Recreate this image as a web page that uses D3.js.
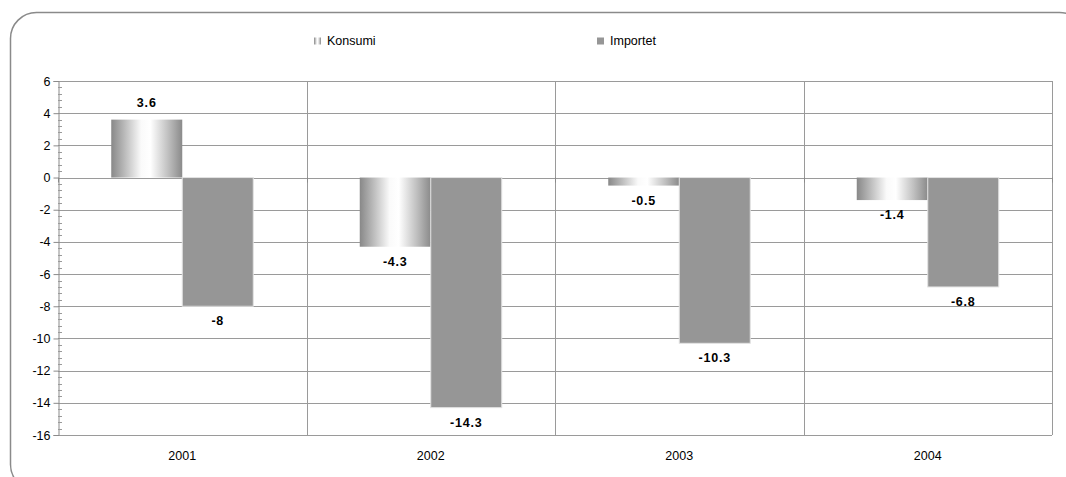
<!DOCTYPE html>
<html>
<head>
<meta charset="utf-8">
<script src="https://cdn.jsdelivr.net/npm/d3@7"></script>
<style>
  body { margin: 0; background: #fff; overflow: hidden; }
  svg { display: block; font-family: "Liberation Sans", Arial, sans-serif; }
</style>
</head>
<body>
<svg id="chart" width="1066" height="477"></svg>
<script>
const years = ["2001", "2002", "2003", "2004"];
const seriesNames = ["Konsumi", "Importet"];
const konsumi = [3.6, -4.3, -0.5, -1.4];
const importet = [-8, -14.3, -10.3, -6.8];
const yTicks = [6, 4, 2, 0, -2, -4, -6, -8, -10, -12, -14, -16];

const svg = d3.select("#chart");
const m = { left: 58, right: 1052, top: 81, bottom: 435 };
const hy = v => String(v).replace("\u2212", "-");

// frame (extends past the right and bottom edges, as in the reference)
svg.append("rect")
  .attr("x", 10.5).attr("y", 12.5)
  .attr("width", 1075).attr("height", 478)
  .attr("rx", 26).attr("ry", 26)
  .attr("fill", "#fff").attr("stroke", "#8a8a8a").attr("stroke-width", 1.5);

const defs = svg.append("defs");
const grad = defs.append("linearGradient").attr("id", "kgrad")
  .attr("x1", "0%").attr("x2", "100%").attr("y1", "0%").attr("y2", "0%");
[[0, "#888888"], [0.18, "#b8b8b8"], [0.42, "#fafafa"], [0.55, "#ffffff"], [0.8, "#c0c0c0"], [1, "#8a8a8a"]]
  .forEach(([o, c]) => grad.append("stop").attr("offset", o).attr("stop-color", c));

const x0 = d3.scaleBand().domain(years).range([m.left, m.right]).paddingInner(0).paddingOuter(0);
const y = d3.scaleLinear().domain([-16, 6]).range([m.bottom, m.top]);
const bw = x0.bandwidth() / 3.5;
const x1 = d3.scaleBand().domain(seriesNames).range([0.75 * bw, 2.75 * bw]).padding(0);

svg.append("g").selectAll("line").data(yTicks).join("line")
  .attr("x1", m.left).attr("x2", m.right)
  .attr("y1", d => Math.round(y(d)) + 0.5).attr("y2", d => Math.round(y(d)) + 0.5)
  .attr("stroke", "#9a9a9a").attr("stroke-width", 1);

const bounds = years.map(d => x0(d)).concat([m.right]);
svg.append("g").selectAll("line").data(bounds.slice(1)).join("line")
  .attr("x1", d => Math.round(d) + 0.5).attr("x2", d => Math.round(d) + 0.5)
  .attr("y1", m.top).attr("y2", m.bottom)
  .attr("stroke", "#9a9a9a").attr("stroke-width", 1);

const rows = years.map((yr, i) => ({ year: yr, vals: [
  { s: "Konsumi", v: konsumi[i] }, { s: "Importet", v: importet[i] }] }));

const groups = svg.append("g").selectAll("g").data(rows).join("g")
  .attr("transform", d => `translate(${x0(d.year)},0)`);

groups.selectAll("rect").data(d => d.vals).join("rect")
  .attr("x", d => x1(d.s))
  .attr("width", x1.bandwidth())
  .attr("y", d => y(Math.max(0, d.v)))
  .attr("height", d => Math.abs(y(d.v) - y(0)))
  .attr("fill", d => d.s === "Konsumi" ? "url(#kgrad)" : "#969696")
  .attr("stroke", d => d.s === "Konsumi" ? "none" : "#e2e2e2")
  .attr("stroke-width", 1);

groups.selectAll("text").data(d => d.vals).join("text")
  .attr("x", d => x1(d.s) + x1.bandwidth() / 2)
  .attr("y", d => d.v >= 0 ? y(d.v) - 17 : y(d.v) + 15)
  .attr("text-anchor", "middle")
  .attr("dominant-baseline", "central")
  .attr("font-size", 12.5).attr("font-weight", "bold")
  .attr("letter-spacing", 0.8)
  .attr("fill", "#000")
  .text(d => hy(d.v));

const yAxis = d3.axisLeft(y).tickValues(yTicks).tickSize(5).tickFormat(d => hy(d));
const ga = svg.append("g").attr("transform", `translate(${m.left + 0.5},0)`).call(yAxis);
ga.select(".domain").attr("stroke", "#8a8a8a");
ga.selectAll(".tick line").attr("stroke", "#8a8a8a");
ga.selectAll(".tick text").attr("font-size", 12.5).attr("fill", "#000")
  .attr("font-family", "Liberation Sans, Arial, sans-serif").attr("x", -8);

const minor = d3.range(-16, 6.0001, 0.4).filter(v => Math.abs(v / 2 - Math.round(v / 2)) > 0.01);
svg.append("g").selectAll("line").data(minor).join("line")
  .attr("x1", m.left).attr("x2", m.left + 4)
  .attr("y1", d => Math.round(y(d)) + 0.5).attr("y2", d => Math.round(y(d)) + 0.5)
  .attr("stroke", "#9a9a9a");

svg.append("g").selectAll("line").data(bounds).join("line")
  .attr("x1", d => Math.round(d) + 0.5).attr("x2", d => Math.round(d) + 0.5)
  .attr("y1", y(0)).attr("y2", y(0) + 5)
  .attr("stroke", "#8a8a8a");

svg.append("g").selectAll("text").data(years).join("text")
  .attr("x", d => x0(d) + x0.bandwidth() / 2)
  .attr("y", m.bottom + 21)
  .attr("text-anchor", "middle").attr("dominant-baseline", "central")
  .attr("font-size", 12.5).attr("fill", "#000")
  .text(d => d);

const legendX = [314, 597];
const lg = svg.append("g").selectAll("g").data(seriesNames).join("g")
  .attr("transform", (d, i) => `translate(${legendX[i]},41)`);
lg.append("rect").attr("x", 0).attr("y", -3.5).attr("width", 7).attr("height", 7)
  .attr("fill", d => d === "Konsumi" ? "url(#kgrad)" : "#969696");
lg.append("text").attr("x", 13).attr("y", 0).attr("dominant-baseline", "central")
  .attr("font-size", 12.5).attr("fill", "#000").text(d => d);
</script>
</body>
</html>
